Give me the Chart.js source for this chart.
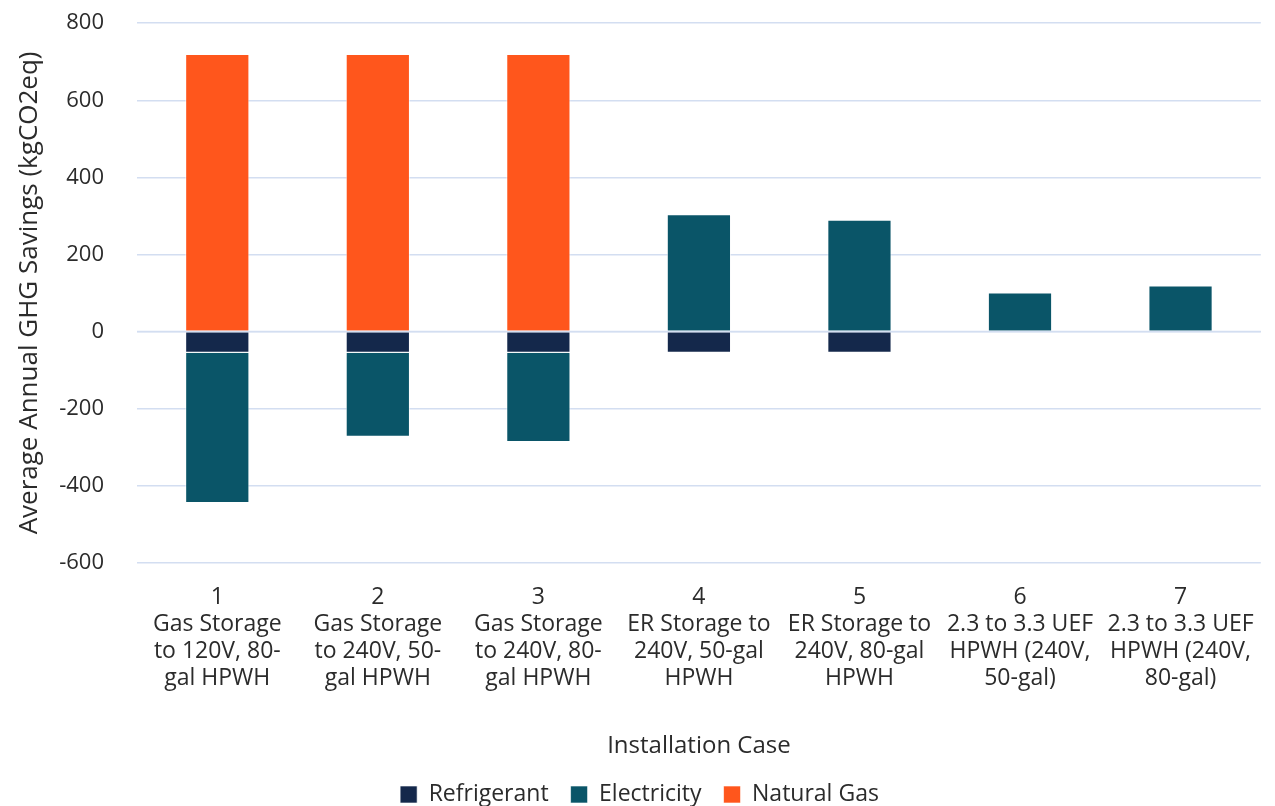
<!DOCTYPE html>
<html>
<head>
<meta charset="utf-8">
<script src="https://cdn.jsdelivr.net/npm/chart.js@4"></script>
<style>
  html, body { margin: 0; padding: 0; background: #fff; }
  #wrap { width: 1275px; height: 806px; }
</style>
</head>
<body>
<div id="wrap"><canvas id="ghgChart"></canvas></div>
<script>
// installation cases (one line per array element)
var cases = [
  ["1", "Gas Storage", "to 120V, 80-", "gal HPWH"],
  ["2", "Gas Storage", "to 240V, 50-", "gal HPWH"],
  ["3", "Gas Storage", "to 240V, 80-", "gal HPWH"],
  ["4", "ER Storage to", "240V, 50-gal", "HPWH"],
  ["5", "ER Storage to", "240V, 80-gal", "HPWH"],
  ["6", "2.3 to 3.3 UEF", "HPWH (240V,", "50-gal)"],
  ["7", "2.3 to 3.3 UEF", "HPWH (240V,", "80-gal)"]
];

// kgCO2eq per year
var refrigerant = [-55, -55, -55, -55, -55, 0, 0];
var electricity = [-390, -218, -232, 304, 290, 101, 119];
var naturalGas = [720, 720, 720, 0, 0, 0, 0];

var yTicks = [800, 600, 400, 200, 0, -200, -400, -600];

var textColor = "#2b2b2b";
var gridColor = "#d3def1";
var fontName = "'Open Sans'";

// zero line sits on top of the bars
var zeroLine = {
  id: 'zeroLine',
  afterDatasetsDraw: function(chart) {
    var y = chart.scales.y.getPixelForValue(0);
    var area = chart.chartArea;
    var c = chart.ctx;
    c.save();
    c.strokeStyle = gridColor;
    c.lineWidth = 1.5;
    c.beginPath();
    c.moveTo(area.left, y);
    c.lineTo(area.right, y);
    c.stroke();
    c.restore();
  }
};

var ctx = document.getElementById("ghgChart");

new Chart(ctx, {
  type: 'bar',
  data: {
    labels: cases,
    datasets: [{
      label: 'Refrigerant',
      data: refrigerant,
      backgroundColor: "#14284b",
      borderColor: "rgba(255,255,255,0.6)",
      borderWidth: 1
    }, {
      label: 'Electricity',
      data: electricity,
      backgroundColor: "#0a5568",
      borderColor: "rgba(255,255,255,0.6)",
      borderWidth: 1
    }, {
      label: 'Natural Gas',
      data: naturalGas,
      backgroundColor: "#ff561c",
      borderColor: "rgba(255,255,255,0.6)",
      borderWidth: 1
    }]
  },
  options: {
    responsive: true,
    maintainAspectRatio: false,
    animation: false,
    layout: { padding: { left: 10, right: 6, top: 0, bottom: -10 } },
    datasets: {
      bar: { barPercentage: 0.4, categoryPercentage: 1.0 }
    },
    scales: {
      x: {
        stacked: true,
        grid: { display: false, drawTicks: false },
        border: { display: false },
        ticks: {
          color: textColor,
          font: { family: fontName, size: 23, lineHeight: 1.18 },
          maxRotation: 0,
          autoSkip: false,
          padding: 21
        },
        title: {
          display: true,
          text: "Installation Case",
          color: textColor,
          font: { family: fontName, size: 24 },
          padding: { top: 19, bottom: 0 }
        }
      },
      y: {
        stacked: true,
        min: -600,
        max: 800,
        grid: {
          color: gridColor,
          lineWidth: 1.5,
          drawTicks: true,
          tickLength: 23,
          tickColor: "rgba(0,0,0,0)"
        },
        border: { display: false },
        afterBuildTicks: function(axis) {
          axis.ticks = yTicks.map(function(v) { return { value: v }; });
        },
        ticks: {
          color: textColor,
          font: { family: fontName, size: 22 },
          padding: 10
        },
        title: {
          display: true,
          text: "Average Annual GHG Savings (kgCO2eq)",
          color: textColor,
          font: { family: fontName, size: 26 },
          padding: { bottom: 4 }
        }
      }
    },
    plugins: {
      legend: {
        position: 'bottom',
        labels: {
          color: textColor,
          font: { family: fontName, size: 23 },
          boxWidth: 17,
          boxHeight: 17,
          padding: 22
        }
      },
      tooltip: { enabled: false }
    }
  },
  plugins: [zeroLine]
});
</script>
</body>
</html>
